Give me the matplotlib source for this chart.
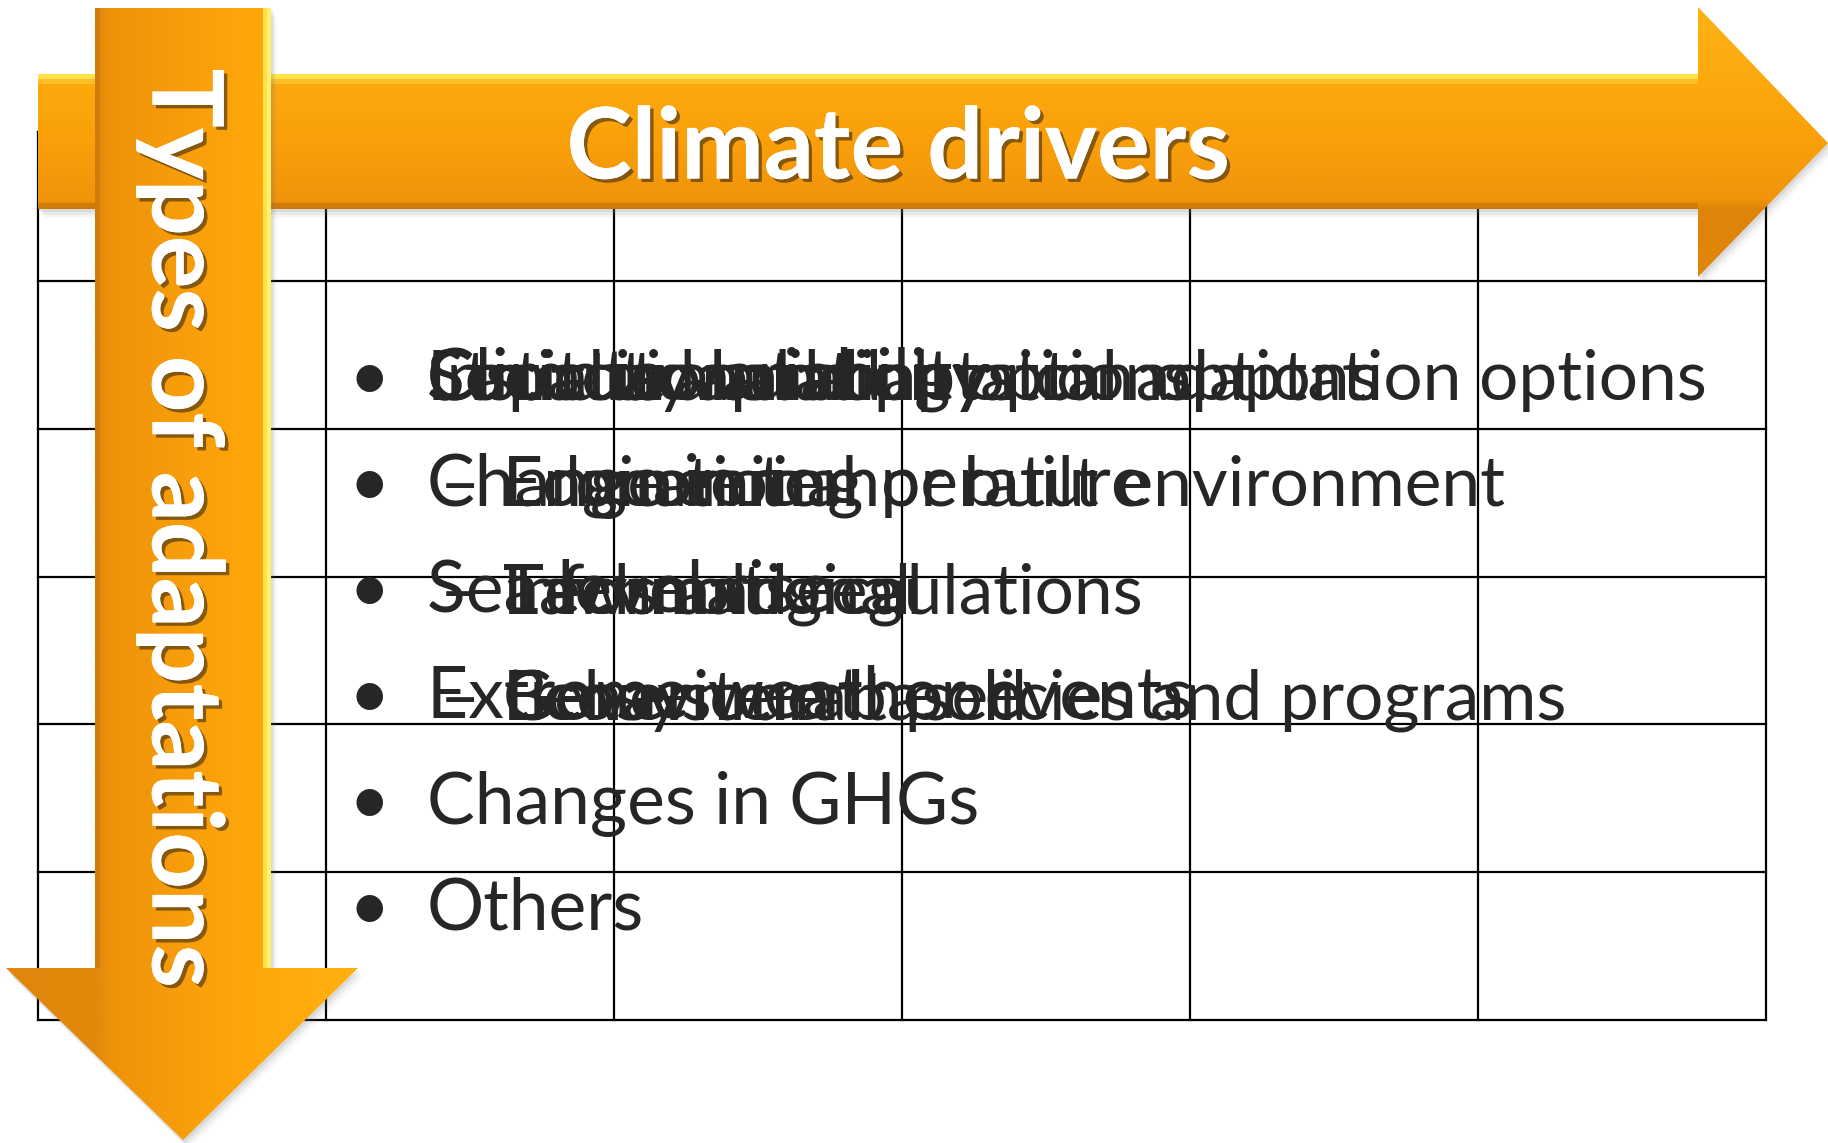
import numpy as np
import matplotlib.pyplot as plt
from matplotlib.patches import Polygon, Rectangle
from matplotlib import patheffects as pe

W, H = 1828, 1143

title_x = "Climate drivers"
title_y = "Types of adaptations"

# first text box: the climate drivers
drivers = ["Climate variability", "Change in temperature", "Sea level rise",
           "Extreme weather events", "Changes in GHGs", "Others"]

# second text box of the slide, sitting on top of the first one
categories = ["Capacity building", "Social adaptation options",
              "Institutional adaptation options",
              "Structural and physical adaptation options"]
subtypes = [
    [],
    ["Educational", "Economic", "Engineering or built environment"],
    ["Technological", "Informational", "Laws and regulations"],
    ["Ecosystem based", "Behavioural", "Government policies and programs"],
]

# table grid (pixels)
col_edges = [38, 326, 614, 902, 1190, 1478, 1766]
row_edges = [132, 281, 429, 577, 724, 872, 1020]

TXT = "#262626"
FONT = "Lato"


def grad_fill(ax, verts, stops, axis, z):
    poly = Polygon(verts, closed=True, facecolor="none", edgecolor="none", zorder=z)
    ax.add_patch(poly)
    pos = np.array([s[0] for s in stops], dtype=float)
    cols = np.array([s[1] for s in stops], dtype=float) / 255
    lo, hi = pos[0], pos[-1]
    t = np.linspace(lo, hi, 400)
    rgb = np.stack([np.interp(t, pos, cols[:, k]) for k in range(3)], axis=-1)
    if axis == "x":
        im = ax.imshow(rgb[None, :, :], extent=(lo, hi, H, 0), origin="upper",
                       aspect="auto", zorder=z, interpolation="bilinear")
    else:
        im = ax.imshow(rgb[:, None, :], extent=(0, W, hi, lo), origin="upper",
                       aspect="auto", zorder=z, interpolation="bilinear")
    im.set_clip_path(poly)
    return poly


def shadow(ax, verts, z):
    v = np.array(verts, dtype=float)
    for k, a in [(9, 0.06), (6, 0.10), (3, 0.14)]:
        ax.add_patch(Polygon(v + [k * 0.6, k], closed=True, facecolor="#7a7a7a",
                             edgecolor="none", alpha=a, zorder=z))


fig = plt.figure(figsize=(W / 100, H / 100), dpi=100)
ax = fig.add_axes([0, 0, 1, 1])
ax.axis("off")

# grid
for y in row_edges:
    ax.plot([col_edges[0], col_edges[-1]], [y, y], color="black", lw=1.6, zorder=1)
for x in col_edges:
    ax.plot([x, x], [row_edges[0], row_edges[-1]], color="black", lw=1.6, zorder=1)

# horizontal arrow
harrow = [(38, 74), (1698, 74), (1698, 7), (1828, 143), (1698, 277), (1698, 209), (38, 209)]
shadow(ax, harrow, 2)
grad_fill(ax, harrow,
          [(7, (255, 178, 20)), (74, (253, 170, 14)), (140, (250, 160, 10)),
           (200, (240, 148, 10)), (209, (222, 132, 10)), (277, (226, 134, 10))],
          "y", 3)
ax.add_patch(Rectangle((38, 74), 1660, 5, facecolor="#ffe24a", edgecolor="none", zorder=3.1))
ax.add_patch(Rectangle((38, 79), 1660, 5, facecolor="#ffc832", edgecolor="none", alpha=0.7, zorder=3.1))
ax.add_patch(Rectangle((38, 203), 1660, 6, facecolor="#b87008", edgecolor="none", alpha=0.5, zorder=3.1))

# vertical arrow
varrow = [(95, 8), (271, 8), (271, 968), (358, 968), (183, 1140), (6, 968), (95, 968)]
shadow(ax, varrow, 3.5)
grad_fill(ax, varrow,
          [(6, (224, 134, 10)), (95, (226, 136, 10)), (110, (238, 146, 10)),
           (200, (250, 160, 10)), (262, (255, 168, 10)), (358, (255, 176, 18))],
          "x", 4)
ax.add_patch(Rectangle((263, 8), 4, 960, facecolor="#ffe24a", edgecolor="none", zorder=4.1))
ax.add_patch(Rectangle((267, 8), 4, 960, facecolor="#fff070", edgecolor="none", zorder=4.1))
ax.add_patch(Rectangle((95, 8), 5, 960, facecolor="#b87008", edgecolor="none", alpha=0.45, zorder=4.1))

# arrow titles
shade = [pe.withSimplePatchShadow(offset=(2.5, -2.5), shadow_rgbFace="#3a2a10", alpha=0.6), pe.Normal()]
ax.text(898, 150, title_x, color="white", fontsize=71, fontweight="bold", family=FONT,
        ha="center", va="center", zorder=6, path_effects=shade)
ax.text(181, 528, title_y, color="white", fontsize=71, fontweight="bold", family=FONT,
        ha="center", va="center", rotation=270, zorder=6, path_effects=shade)

# bullet lists
base0, step = 400, 106
bx, tx, dx, sx = 369, 427, 440, 503
fs, fs2 = 51.5, 50
for i, d in enumerate(drivers):
    yb = base0 + i * step
    ax.text(bx, yb, "\u2022", color=TXT, fontsize=fs, family=FONT, ha="center",
            va="baseline", zorder=5)
    ax.text(tx, yb, d, color=TXT, fontsize=fs, family=FONT, ha="left",
            va="baseline", zorder=5)

for c in categories:
    ax.text(tx, base0, c, color=TXT, fontsize=fs2, family=FONT, ha="left",
            va="baseline", zorder=5)

for i, items in enumerate(subtypes):
    yb = base0 + i * step + (2 if i > 1 else 0)
    if items:
        ax.text(dx, yb, "\u2013", color=TXT, fontsize=fs2, family=FONT, ha="left",
                va="baseline", zorder=5)
    for s in items:
        ax.text(sx, yb, s, color=TXT, fontsize=fs2, family=FONT, ha="left",
                va="baseline", zorder=5)

ax.set_xlim(0, W)
ax.set_ylim(H, 0)
fig.savefig("out.png", dpi=100, facecolor="white")
